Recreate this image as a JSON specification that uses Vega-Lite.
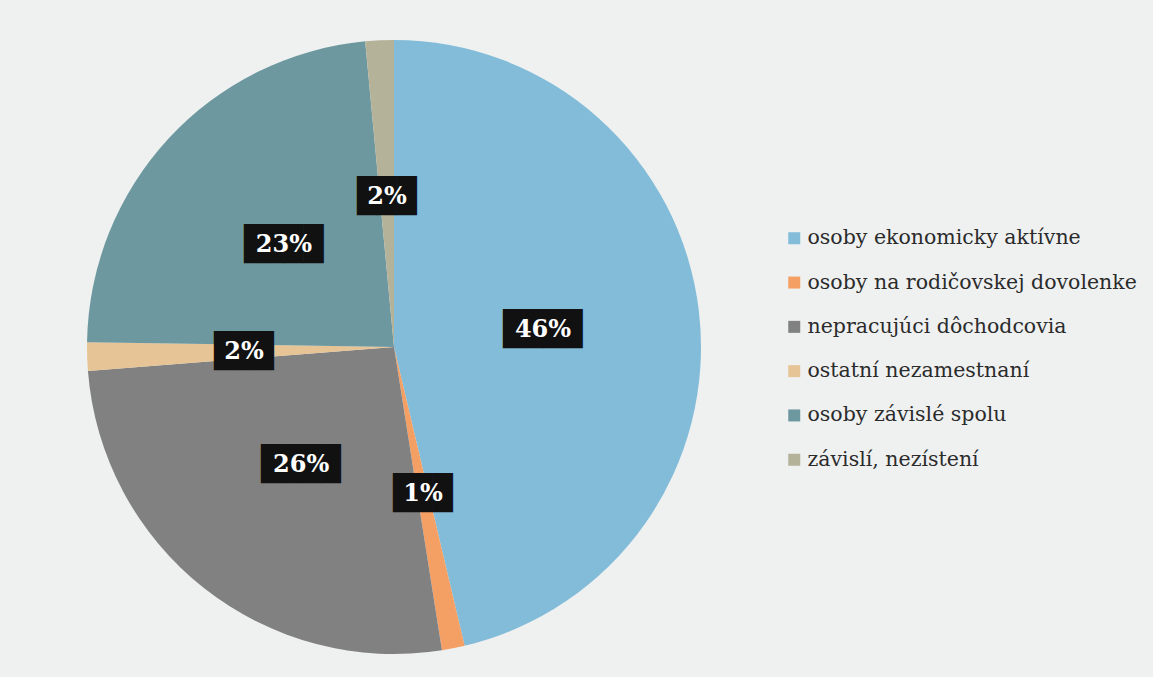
{
  "$schema": "https://vega.github.io/schema/vega-lite/v6.json",
  "width": 788,
  "height": 694,
  "autosize": {"type": "none"},
  "padding": {"left": 0, "top": 0, "right": 365, "bottom": 0},
  "background": "#eff1f1",
  "config": {"view": {"stroke": null}},
  "data": {
    "values": [
      {"kategoria": "osoby ekonomicky aktívne", "podiel": 46.4, "poradie": 1},
      {"kategoria": "osoby na rodičovskej dovolenke", "podiel": 1.2, "poradie": 2},
      {"kategoria": "nepracujúci dôchodcovia", "podiel": 26.3, "poradie": 3},
      {"kategoria": "ostatní nezamestnaní", "podiel": 1.5, "poradie": 4},
      {"kategoria": "osoby závislé spolu", "podiel": 23.3, "poradie": 5},
      {"kategoria": "závislí, nezístení", "podiel": 1.5, "poradie": 6}
    ]
  },
  "transform": [
    {"calculate": "format(datum.podiel, '.0f') + '%'", "as": "label"},
    {"calculate": "replace(datum.label, regexp('.', 'g'), '█') + '█'", "as": "box"}
  ],
  "encoding": {
    "theta": {"field": "podiel", "type": "quantitative", "stack": true},
    "order": {"field": "poradie", "type": "quantitative"}
  },
  "layer": [
    {
      "mark": {"type": "arc", "outerRadius": 307},
      "encoding": {
        "color": {
          "field": "kategoria",
          "type": "nominal",
          "sort": null,
          "scale": {
            "domain": ["osoby ekonomicky aktívne", "osoby na rodičovskej dovolenke", "nepracujúci dôchodcovia", "ostatní nezamestnaní", "osoby závislé spolu", "závislí, nezístení"],
            "range": ["#83bcd9", "#f4a064", "#818181", "#e6c495", "#6d989f", "#b5b29a"]
          },
          "legend": {
            "title": null,
            "orient": "none",
            "legendX": 784,
            "legendY": 228,
            "padding": 0,
            "symbolType": "square",
            "symbolSize": 144,
            "symbolStrokeWidth": 0,
            "labelFont": "DejaVu Serif",
            "labelFontSize": 20.5,
            "labelColor": "#2b2b2b",
            "labelOffset": 3,
            "rowPadding": 23.3,
            "labelLimit": 400
          }
        }
      }
    },
    {
      "mark": {"type": "text", "radius": 150, "font": "DejaVu Sans Mono", "fontSize": 33, "baseline": "middle", "align": "center"},
      "encoding": {
        "text": {"field": "box"},
        "color": {"value": "#111111"}
      }
    },
    {
      "mark": {"type": "text", "radius": 150, "font": "DejaVu Serif", "fontWeight": "bold", "fontSize": 24, "baseline": "middle", "align": "center"},
      "encoding": {
        "text": {"field": "label"},
        "color": {"value": "#ffffff"}
      }
    }
  ]
}
